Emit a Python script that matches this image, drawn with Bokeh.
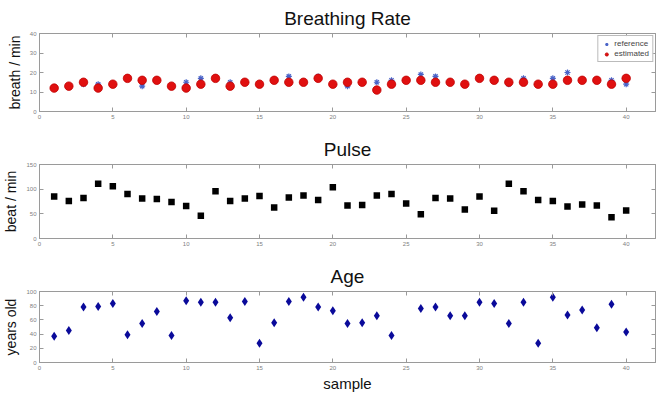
from bokeh.plotting import figure
from bokeh.layouts import column
from bokeh.models import LinearAxis, FixedTicker, Range1d, Legend, LegendItem
from bokeh.embed import file_html
from bokeh.resources import INLINE

nan = float("nan")

samples = list(range(1, 41))

breath_estimated = [12, 13, 15, 12, 14, 17, 16, 16, 13, 12,
                    14, 17, 13, 15, 14, 16, 15, 15, 17, 14,
                    15, 15, 11, 14, 16, 16, 15, 15, 14, 17,
                    16, 15, 15, 14, 14, 16, 16, 16, 14, 17]
breath_reference = [12, 13, 14, 14, 14, 17, 13, 16, 13, 15,
                    17, 17, 15, 15, 14, 16, 18, 15, 18, 14,
                    13, 15, 15, 16, 16, 19, 18, 15, 14, 17,
                    16, 14, 17, 14, 17, 20, 16, 16, 16, 14]

pulse = [85, 76, 82, 111, 106, 90, 81, 80, 74, 66,
         46, 96, 76, 81, 86, 63, 83, 87, 78, 104,
         67, 68, 87, 90, 71, 49, 82, 81, 59, 85,
         56, 111, 96, 78, 76, 65, 69, 67, 43, 57]

age = [37, 45, 78, 79, 83, 39, 55, 72, 38, 87,
       85, 85, 63, 86, 27, 56, 86, 92, 78, 73,
       55, 56, 66, 38, nan, 76, 78, 66, 66, 85,
       83, 55, 85, 27, 92, 67, 74, 49, 82, 43]

x_ticks = [0, 5, 10, 15, 20, 25, 30, 35, 40]
breath_ticks = [0, 10, 20, 30, 40]
pulse_ticks = [0, 50, 100, 150]
age_ticks = [0, 20, 40, 60, 80, 100]

FONT = "Liberation Sans"
AXIS_GREY = "#9a9a9a"


def style_axis(ax, ticks, show_labels=True):
    ax.ticker = FixedTicker(ticks=ticks)
    ax.axis_line_color = AXIS_GREY
    ax.major_tick_line_color = AXIS_GREY
    ax.major_tick_in = 4
    ax.major_tick_out = 0
    ax.minor_tick_line_color = None
    ax.major_label_text_font = FONT
    ax.major_label_text_font_size = "6px"
    ax.major_label_text_color = "#808080"
    ax.major_label_standoff = 3
    if not show_labels:
        ax.major_label_text_font_size = "0px"
        ax.major_label_text_color = None


def panel(title, ylabel, ymax, yticks, height, top, bottom, xlabel=None):
    p = figure(width=669, height=height, output_backend="svg", toolbar_location=None,
               x_range=Range1d(0, 42), y_range=Range1d(0, ymax),
               min_border_left=35, min_border_right=14,
               min_border_top=top, min_border_bottom=bottom,
               x_axis_location=None, y_axis_location=None)
    p.title.text = title
    p.title.align = "center"
    p.title.text_font = FONT
    p.title.text_font_style = "normal"
    p.title.text_font_size = "19px"
    p.title.text_color = "#111111"
    p.title.offset = 0

    p.xgrid.visible = False
    p.ygrid.visible = False
    p.outline_line_color = AXIS_GREY
    p.background_fill_color = "white"
    p.border_fill_color = "white"

    left = LinearAxis(axis_label=ylabel)
    style_axis(left, yticks)
    left.axis_label_text_font = FONT
    left.axis_label_text_font_style = "normal"
    left.axis_label_text_font_size = "14px"
    left.axis_label_text_color = "#111111"
    left.axis_label_standoff = 4
    p.add_layout(left, "left")

    right = LinearAxis()
    style_axis(right, yticks, show_labels=False)
    p.add_layout(right, "right")

    below = LinearAxis(axis_label=xlabel)
    style_axis(below, x_ticks)
    if xlabel:
        below.axis_label_text_font = FONT
        below.axis_label_text_font_style = "normal"
        below.axis_label_text_font_size = "15px"
        below.axis_label_text_color = "#111111"
        below.axis_label_standoff = 2
    p.add_layout(below, "below")

    above = LinearAxis()
    style_axis(above, x_ticks, show_labels=False)
    p.add_layout(above, "above")
    return p


# Breathing rate: reference vs estimated
p1 = panel("Breathing Rate", "breath / min", 40, breath_ticks, 131, 33, 20)
r_ref = p1.scatter(samples, breath_reference, marker="asterisk", size=6,
                   line_color="#4a64c8", line_width=1.2)
r_est = p1.scatter(samples, breath_estimated, marker="circle", size=8.5,
                   fill_color="#e01010", line_color="#c00000", line_width=0.8)
legend = Legend(items=[LegendItem(label="reference", renderers=[r_ref]),
                       LegendItem(label="estimated", renderers=[r_est])],
                location="top_right")
legend.label_text_font = FONT
legend.label_text_font_size = "8px"
legend.label_height = 8
legend.glyph_height = 8
legend.glyph_width = 10
legend.spacing = 1
legend.padding = 3
legend.margin = 2
legend.label_standoff = 3
legend.border_line_color = "#777777"
p1.add_layout(legend)

# Pulse
p2 = panel("Pulse", "beat / min", 150, pulse_ticks, 127, 30, 20)
p2.scatter(samples, pulse, marker="square", size=6.5, fill_color="black", line_color=None)

# Age
p3 = panel("Age", "years old", 100, age_ticks, 136, 30, 27, xlabel="sample")
p3.scatter(samples, age, marker="diamond", size=9, fill_color="#0a0a9a", line_color=None)

layout = column(p1, p2, p3, spacing=0)

open("out.html", "w").write(file_html(layout, INLINE))
